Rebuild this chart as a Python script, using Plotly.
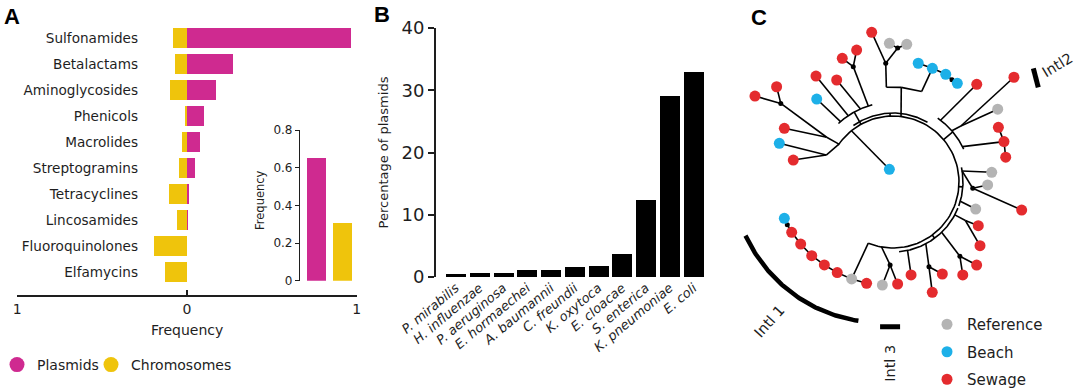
import numpy as np
import plotly.graph_objects as go

W, H = 1080, 388

# ---------------- Panel A data ----------------
classes = ["Sulfonamides", "Betalactams", "Aminoglycosides", "Phenicols", "Macrolides",
           "Streptogramins", "Tetracyclines", "Lincosamides", "Fluoroquinolones", "Elfamycins"]
plasmid_freq = [0.97, 0.275, 0.17, 0.10, 0.08, 0.05, 0.012, 0.006, 0.0, 0.0]
chromosome_freq = [0.08, 0.067, 0.10, 0.008, 0.03, 0.043, 0.105, 0.055, 0.195, 0.13]
inset_groups = ["Plasmids", "Chromosomes"]
inset_freq = [0.65, 0.305]

# ---------------- Panel B data ----------------
species = ["P. mirabilis", "H. influenzae", "P. aeruginosa", "E. hormaechei", "A. baumannii",
           "C. freundii", "K. oxytoca", "E. cloacae", "S. enterica", "K. pneumoniae", "E. coli"]
plasmid_pct = [0.5, 0.65, 0.7, 1.05, 1.2, 1.6, 1.7, 3.7, 12.4, 29.1, 32.9]

# ---------------- Panel C data (circular tree, polar: degrees, radius) ----------------
node_angle = [145, 146, 145, 140.7, 148.1, 153.7, 158, 161.2, 167.6, 129, 106,
              131, 132.6, 124, 126, 114, 118.9, 108, 109, 105.4, 112.3,
              83, 85, 94, 93.5, 98.1, 88, 91.5, 84.3,
              72.4, 70.9, 78, 63.9, 60, 56.9,
              52.4, 49.4, 41, 39.5, 40.9, 34.8, 27, 20, 27.4, 12.4,
              9, 5.6, -4.5, -1.8, -12.3, -16, -18.1,
              -28, -28, -27.1, -36.2, -46, -48, -44.8, -53.1, -62, -67, -61.8, -70.4, -78, -79,
              -100, -92, -87.4, -95.9, -112, -113.1, -104.6, -121.6, -129.6, -137.8, -146.1, -153.6, -158, -161.5]
node_radius = [66, 80, 137, 150.4, 162.6, 121.2, 72, 120.1, 102.1, 66, 13.2,
               80, 112.7, 80, 131, 80, 116.5, 80, 122, 136.9, 133.7,
               66, 95, 95, 119, 151.2, 134, 138.7, 138.4,
               95, 120.3, 121.4, 119.9, 118, 117.8,
               78, 128.7, 78, 88, 160, 127.5, 78, 118.1, 118.7, 115.4,
               70, 99.2, 80, 94.7, 131.7, 70, 87,
               70, 82, 95.8, 107.8, 70, 100, 117.9, 116.2, 70, 92, 104.4, 117.1, 70, 94.7,
               66, 83, 102.1, 103.6, 66, 105.4, 104.7, 106.4, 107.7, 109.7, 111.2, 113.1, 114, 114.6]
node_parent = [-1, 0, 1, 2, 2, 1, 0, 6, 6, -1, 9,
               -1, 11, -1, 13, -1, 15, -1, 17, 18, 18,
               -1, 21, 22, 23, 24, 24, 26, 26,
               22, 29, 30, 30, 32, 33,
               -1, 35, -1, 37, 38, 38, -1, 41, 42, 42,
               -1, 45, 45, 47, 47, -1, 50,
               -1, 52, 53, 53, -1, 56, 57, 57, -1, 60, 61, 61, -1, 64,
               -1, 66, 67, 67, -1, 70, 71, 71, 73, 74, 75, 76, 77, 78]
node_kind = ["node", "node", "dot", "Sewage", "Sewage", "Sewage", "node", "Beach", "Sewage", "node", "Beach",
             "node", "Beach", "node", "Sewage", "node", "Sewage", "node", "dot", "Sewage", "Sewage",
             "node", "node", "node", "dot", "Sewage", "dot", "Reference", "Reference",
             "node", "Beach", "Beach", "Beach", "dot", "Beach",
             "node", "Sewage", "node", "node", "Sewage", "Reference", "node", "Sewage", "Sewage", "Sewage",
             "node", "Reference", "dot", "Reference", "Sewage", "node", "Reference",
             "node", "node", "Sewage", "Sewage", "node", "dot", "Sewage", "Sewage", "node", "dot", "Sewage", "Sewage", "node", "Sewage",
             "node", "dot", "Sewage", "Reference", "node", "Reference", "Sewage", "Sewage", "Sewage", "Sewage", "Sewage", "Sewage", "dot", "Beach"]
ring_radius = 66
arc_radius = [66, 80, 78, 70, 70, 69]
arc_start = [-112, 105, 25, -20, -85, 60]
arc_end = [146, 133, 55, 12, -22, 125]
intl1_angle = [-160, -104]
intl1_radius = [157, 143]
intl2_angle = [39, 33.1]
intl2_radius = [180.6, 173.4]
intl3_angle = [-95.1, -87.2]
intl3_radius = [145.3, 144.9]
source_names = ["Reference", "Beach", "Sewage"]
source_colors = ["#B4B4B4", "#1DB0E8", "#E42B2E"]

MAG = "#CF2A90"
YEL = "#EFC40C"
TXT = "#1e1e1e"
FONT = "DejaVu Sans"


def py(p):
    return 1 - p / H


fig = go.Figure()

# Panel A main bars
fig.add_trace(go.Bar(y=classes, x=plasmid_freq, orientation="h", marker=dict(color=MAG, line_width=0),
                     width=0.8, xaxis="x", yaxis="y", showlegend=False, hoverinfo="skip"))
fig.add_trace(go.Bar(y=classes, x=[-v for v in chromosome_freq], orientation="h",
                     marker=dict(color=YEL, line_width=0), width=0.8, xaxis="x", yaxis="y",
                     showlegend=False, hoverinfo="skip"))
# Panel A legend entries
fig.add_trace(go.Scatter(x=[None], y=[None], mode="markers", name="Plasmids",
                         marker=dict(color=MAG, size=15), xaxis="x", yaxis="y", legend="legend"))
fig.add_trace(go.Scatter(x=[None], y=[None], mode="markers", name="Chromosomes",
                         marker=dict(color=YEL, size=15), xaxis="x", yaxis="y", legend="legend3"))
# Panel A inset
fig.add_trace(go.Bar(x=inset_groups, y=inset_freq, marker=dict(color=[MAG, YEL], line_width=0),
                     width=0.73, xaxis="x2", yaxis="y2", showlegend=False, hoverinfo="skip"))
# Panel B
fig.add_trace(go.Bar(x=species, y=plasmid_pct, marker=dict(color="black", line_width=0),
                     width=0.84, xaxis="x3", yaxis="y3", showlegend=False, hoverinfo="skip"))

# Panel C tree
th = np.radians(np.array(node_angle, dtype=float))
rr = np.array(node_radius, dtype=float)
nx = rr * np.cos(th)
ny = rr * np.sin(th)
ex, ey = [], []
for i, p in enumerate(node_parent):
    if p >= 0:
        ex += [nx[p], nx[i], None]
        ey += [ny[p], ny[i], None]
for r_, a0, a1 in zip(arc_radius, arc_start, arc_end):
    t = np.radians(np.linspace(a0, a1, 90))
    ex += list(r_ * np.cos(t)) + [None]
    ey += list(r_ * np.sin(t)) + [None]
    if r_ != ring_radius:
        m = np.radians((a0 + a1) / 2)
        ex += [ring_radius * np.cos(m), r_ * np.cos(m), None]
        ey += [ring_radius * np.sin(m), r_ * np.sin(m), None]
fig.add_trace(go.Scatter(x=ex, y=ey, mode="lines", line=dict(color="black", width=1.6),
                         xaxis="x4", yaxis="y4", showlegend=False, hoverinfo="skip"))
kinds = np.array(node_kind)
dm = kinds == "dot"
fig.add_trace(go.Scatter(x=nx[dm], y=ny[dm], mode="markers", marker=dict(color="black", size=5),
                         xaxis="x4", yaxis="y4", showlegend=False, hoverinfo="skip"))
for name, col in zip(source_names, source_colors):
    m = kinds == name
    fig.add_trace(go.Scatter(x=nx[m], y=ny[m], mode="markers", name=name,
                             marker=dict(color=col, size=11), xaxis="x4", yaxis="y4",
                             legend="legend2", legendgroup=name))

# Intl bars
ta = np.radians(np.linspace(intl1_angle[0], intl1_angle[1], 80))
tr = np.linspace(intl1_radius[0], intl1_radius[1], 80)
fig.add_trace(go.Scatter(x=tr * np.cos(ta), y=tr * np.sin(ta), mode="lines",
                         line=dict(color="black", width=4.5), xaxis="x4", yaxis="y4",
                         showlegend=False, hoverinfo="skip"))
for ang, rad in [(intl2_angle, intl2_radius), (intl3_angle, intl3_radius)]:
    a = np.radians(np.array(ang))
    r_ = np.array(rad)
    fig.add_trace(go.Scatter(x=r_ * np.cos(a), y=r_ * np.sin(a), mode="lines",
                             line=dict(color="black", width=5), xaxis="x4", yaxis="y4",
                             showlegend=False, hoverinfo="skip"))


def pol(a, r_):
    return r_ * np.cos(np.radians(a)), r_ * np.sin(np.radians(a))


annotations = []
for txt, x, y in [("A", 2, 2), ("B", 372, 0), ("C", 749, 3)]:
    annotations.append(dict(text=txt, x=x / W, y=py(y), xref="paper", yref="paper",
                            xanchor="left", yanchor="top", showarrow=False,
                            font=dict(family="Liberation Sans", size=22, color="black", weight="bold")))
annotations.append(dict(text="Frequency", x=187 / W, y=py(330), xref="paper", yref="paper",
                        xanchor="center", yanchor="middle",
                        showarrow=False, font=dict(family=FONT, size=14, color=TXT)))
annotations.append(dict(text="Frequency", x=260 / W, y=py(200), xref="paper", yref="paper",
                        xanchor="center", yanchor="middle",
                        showarrow=False, textangle=-90, font=dict(family=FONT, size=11.5, color=TXT)))
for txt, a, r_, ang in [("Intl2", 35.5, 202, -31), ("Intl 1", -131.5, 186, -48), ("Intl 3", -91, 181, -90)]:
    x, y = pol(a, r_)
    annotations.append(dict(text=txt, x=x, y=y, xref="x4", yref="y4", showarrow=False,
                            xanchor="center", yanchor="middle",
                            textangle=ang, font=dict(family=FONT, size=14.5, color=TXT)))

axis_common = dict(showgrid=False, zeroline=False, color=TXT, automargin=False)
leg_common = dict(font=dict(size=14, color=TXT), bgcolor="rgba(0,0,0,0)", itemclick=False,
                  itemdoubleclick=False)
fig.update_layout(
    width=W, height=H, margin=dict(l=0, r=0, t=0, b=0, autoexpand=False),
    paper_bgcolor="white", plot_bgcolor="rgba(0,0,0,0)",
    barmode="overlay", bargap=0,
    font=dict(family=FONT, color=TXT),
    xaxis=dict(domain=[17.3 / W, 356.7 / W], range=[-1, 1], anchor="y",
               tickvals=[-1, 0, 1], ticktext=["1", "0", "1"], showline=True, linecolor=TXT,
               linewidth=1.5, ticks="inside", ticklen=5, tickwidth=1.5, tickcolor=TXT,
               tickfont=dict(size=14), **axis_common),
    yaxis=dict(domain=[py(295), py(25)], type="category", categoryorder="array",
               categoryarray=classes[::-1], range=[-0.885, 9.5], anchor="free", position=138 / W,
               showline=False, ticks="", tickfont=dict(size=13.6), **axis_common),
    xaxis2=dict(domain=[300 / W, 356 / W], range=[-0.62, 1.5], anchor="y2", type="category",
                showticklabels=False, showline=False, ticks="", **axis_common),
    yaxis2=dict(domain=[py(280.7), py(130)], range=[0, 0.8], anchor="x2", showline=True,
                linecolor=TXT, linewidth=1.2, ticks="outside", ticklen=4, tickcolor=TXT,
                tickvals=[0, 0.2, 0.4, 0.6, 0.8], ticktext=["0", "0.2", "0.4", "0.6", "0.8"],
                tickfont=dict(size=12), **axis_common),
    xaxis3=dict(domain=[435.7 / W, 705.4 / W], range=[-0.841, 10.5], anchor="y3", type="category",
                tickangle=-40, tickfont=dict(size=13, style="italic"), showline=False, ticks="",
                **axis_common),
    yaxis3=dict(domain=[py(277), py(28)], range=[0, 40], anchor="x3", showline=True, linecolor=TXT,
                linewidth=1.5, ticks="outside", ticklen=6, tickwidth=1.5, tickcolor=TXT, dtick=10,
                tickfont=dict(size=18),
                title=dict(text="Percentage of plasmids", font=dict(size=13), standoff=10),
                **axis_common),
    xaxis4=dict(domain=[720 / W, 1], range=[-173, 187], anchor="y4", visible=False),
    yaxis4=dict(domain=[0, 1], range=[-206, 182], anchor="x4", visible=False),
    legend=dict(orientation="h", x=-3 / W, xanchor="left", y=py(365), yanchor="middle", **leg_common),
    legend3=dict(orientation="h", x=91 / W, xanchor="left", y=py(365), yanchor="middle", **leg_common),
    legend2=dict(x=927 / W, xanchor="left", y=py(308), yanchor="top", tracegroupgap=5,
                 font=dict(size=15, color=TXT), bgcolor="rgba(0,0,0,0)", itemclick=False,
                 itemdoubleclick=False),
    annotations=annotations,
)

fig.write_html("out.html", config={"displayModeBar": False},
               post_script="document.body.style.margin='0';document.body.style.overflow='hidden';")
